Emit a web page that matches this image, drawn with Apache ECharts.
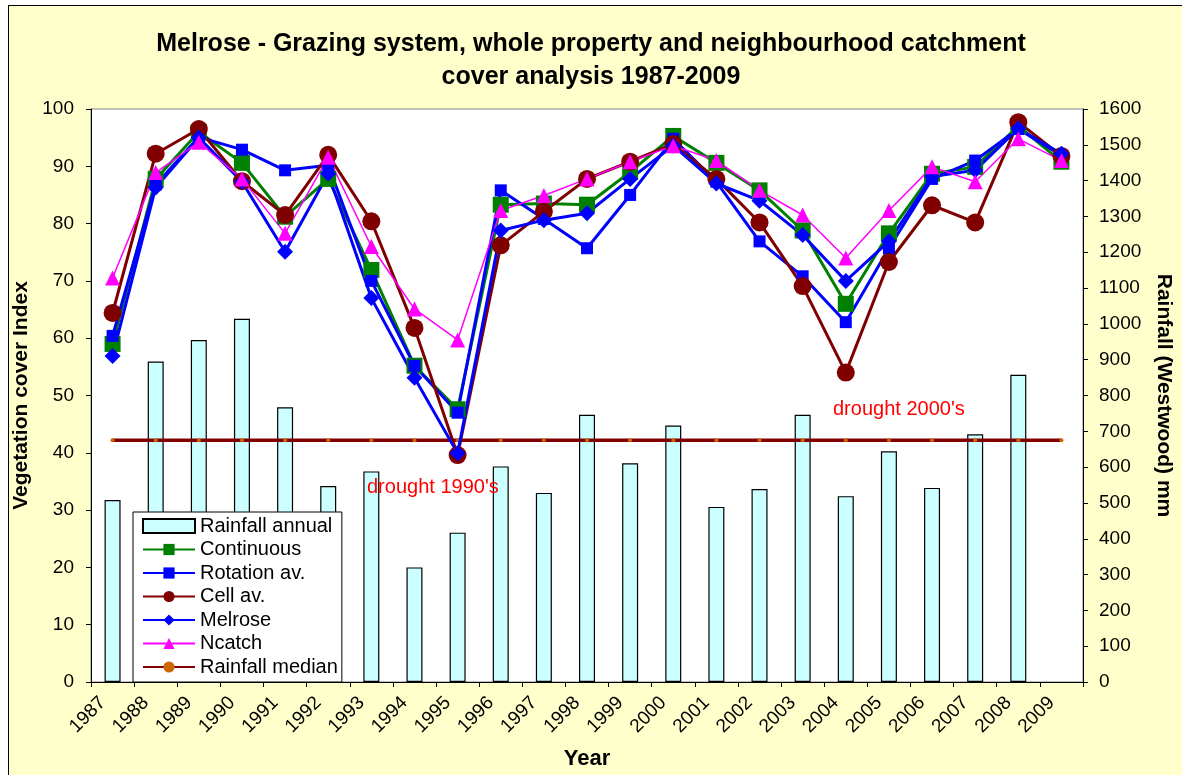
<!DOCTYPE html>
<html>
<head>
<meta charset="utf-8">
<script src="https://cdn.jsdelivr.net/npm/echarts@6/dist/echarts.min.js"></script>
<style>
  html, body { margin: 0; padding: 0; background: #ffffff; }
  #frame { position: absolute; left: 8px; top: 5px; width: 1180px; height: 775px;
           background: #FFFFCC; border: 1px solid #000000; }
  #chart { position: absolute; left: 0; top: 0; width: 1182px; height: 775px; }
</style>
</head>
<body>
<div id="frame"></div>
<div id="chart"></div>
<script>
// Years on the category axis
const years = ['1987','1988','1989','1990','1991','1992','1993','1994','1995','1996','1997','1998',
               '1999','2000','2001','2002','2003','2004','2005','2006','2007','2008','2009'];

// Annual rainfall at Westwood (mm); no figure for 2009
const rainfallAnnual = [508, 895, 955, 1014, 767, 547, 588, 320, 417, 602, 528, 746,
                        611, 716, 489, 539, 746, 519, 644, 542, 692, 858, null];

// Long-term rainfall median (mm)
const rainfallMedianValue = 675;

// Vegetation cover index by grazing system
const continuous = [59.0, 87.8, 96.0, 90.6, 81.2, 87.8, 71.9, 55.2, 47.6, 83.3, 83.5, 83.3,
                    89.0, 95.3, 90.6, 85.8, 78.8, 66.0, 78.3, 88.7, 89.9, 97.0, 90.8];
const rotation   = [60.4, 86.8, 95.1, 92.9, 89.3, 90.2, 70.0, 55.2, 47.0, 85.8, 80.8, 75.7,
                    85.0, 94.8, 87.3, 76.9, 70.8, 62.8, 75.7, 87.8, 91.0, 96.5, 91.9];
const cell       = [64.4, 92.2, 96.5, 87.4, 81.5, 92.0, 80.4, 61.8, 39.6, 76.2, 82.1, 87.8,
                    90.8, 93.9, 87.8, 80.2, 69.1, 54.0, 73.3, 83.2, 80.2, 97.7, 91.8];
const melrose    = [56.9, 86.3, 95.0, 87.3, 75.1, 88.7, 67.0, 53.1, 39.9, 78.8, 80.6, 81.8,
                    87.8, 93.6, 87.0, 84.0, 78.0, 70.0, 76.9, 88.2, 89.3, 96.6, 92.2];
const ncatch     = [70.5, 88.9, 94.2, 87.8, 78.3, 91.6, 76.0, 65.1, 59.7, 82.3, 84.9, 87.8,
                    90.8, 93.6, 91.0, 85.8, 81.5, 74.0, 82.3, 89.9, 87.3, 94.8, 91.0];

// Axis tick settings
const coverTicks = { min: 0, max: 100, interval: 10 };
const rainTicks  = { min: 0, max: 1600, interval: 100 };

const rainfallMedian = years.map(() => rainfallMedianValue);

const FONT = 'Arial, "Liberation Sans", sans-serif';

function lineSeries(name, data, color, width, symbol, size) {
  return {
    name: name, type: 'line', data: data, yAxisIndex: 0,
    symbol: symbol, symbolSize: size, showSymbol: true,
    lineStyle: { color: color, width: width },
    itemStyle: { color: color, borderWidth: 0 },
    emphasis: { disabled: true },
    animation: false
  };
}

const chart = echarts.init(document.getElementById('chart'), null, { renderer: 'canvas' });

chart.setOption({
  backgroundColor: 'transparent',
  animation: false,
  title: {
    text: 'Melrose - Grazing system, whole property and neighbourhood catchment\ncover analysis 1987-2009',
    left: 'center', top: 23,
    textStyle: { fontFamily: FONT, fontSize: 25, fontWeight: 'bold', color: '#000', lineHeight: 33 }
  },
  grid: {
    left: 91, right: 96, top: 109, bottom: 89,
    show: true, backgroundColor: '#ffffff', borderColor: '#808080', borderWidth: 1
  },
  legend: {
    orient: 'vertical', left: 133, top: 512,
    backgroundColor: '#ffffff', borderColor: '#000000', borderWidth: 1,
    padding: [4, 4, 5, 9],
    itemWidth: 52, itemHeight: 14, itemGap: 3.5,
    textStyle: { fontFamily: FONT, fontSize: 20, lineHeight: 20, color: '#000' },
    data: [
      { name: 'Rainfall annual', icon: 'rect' },
      'Continuous', 'Rotation av.', 'Cell av.', 'Melrose', 'Ncatch', 'Rainfall median'
    ]
  },
  xAxis: {
    type: 'category', data: years, boundaryGap: true,
    name: 'Year', nameLocation: 'middle', nameGap: 66,
    nameTextStyle: { fontFamily: FONT, fontSize: 22, fontWeight: 'bold', color: '#000' },
    axisLine: { lineStyle: { color: '#000', width: 1 } },
    axisTick: { show: true, alignWithLabel: false, length: 5, lineStyle: { color: '#000' } },
    axisLabel: { rotate: 45, interval: 0, margin: 8, padding: [0, 14, 0, 0],
                 fontFamily: FONT, fontSize: 19, color: '#000' },
    splitLine: { show: false }
  },
  yAxis: [
    {
      type: 'value', min: coverTicks.min, max: coverTicks.max, interval: coverTicks.interval,
      position: 'left',
      name: 'Vegetation cover Index', nameLocation: 'middle', nameGap: 52, nameRotate: 90,
      nameTextStyle: { fontFamily: FONT, fontSize: 21, fontWeight: 'bold', color: '#000' },
      axisLine: { show: true, lineStyle: { color: '#000', width: 1 } },
      axisTick: { show: true, inside: false, length: 5, lineStyle: { color: '#000' } },
      axisLabel: { fontFamily: FONT, fontSize: 19, color: '#000', margin: 17 },
      splitLine: { show: false }
    },
    {
      type: 'value', min: rainTicks.min, max: rainTicks.max, interval: rainTicks.interval,
      position: 'right',
      name: 'Rainfall (Westwood) mm', nameLocation: 'middle', nameGap: 70, nameRotate: -90,
      nameTextStyle: { fontFamily: FONT, fontSize: 21, fontWeight: 'bold', color: '#000' },
      axisLine: { show: true, lineStyle: { color: '#000', width: 1 } },
      axisTick: { show: true, inside: false, length: 5, lineStyle: { color: '#000' } },
      axisLabel: { fontFamily: FONT, fontSize: 19, color: '#000', margin: 16,
                   formatter: (v) => String(v) },
      splitLine: { show: false }
    }
  ],
  graphic: [
    { type: 'text', left: 367, top: 477, z: 100,
      style: { text: "drought 1990's", fill: '#FF0000', font: '20px ' + FONT } },
    { type: 'text', left: 833, top: 399, z: 100,
      style: { text: "drought 2000's", fill: '#FF0000', font: '20px ' + FONT } }
  ],
  series: [
    {
      name: 'Rainfall annual', type: 'bar', yAxisIndex: 1, data: rainfallAnnual,
      barWidth: 16,
      itemStyle: { color: '#CCFFFF', borderColor: '#000000', borderWidth: 1.2 },
      emphasis: { disabled: true }, z: 1
    },
    lineSeries('Continuous', continuous, '#008000', 3, 'rect', 16),
    lineSeries('Rotation av.', rotation, '#0000FF', 3, 'rect', 12),
    lineSeries('Cell av.', cell, '#800000', 3, 'circle', 18),
    lineSeries('Melrose', melrose, '#0000FF', 3, 'diamond', 16),
    lineSeries('Ncatch', ncatch, '#FF00FF', 1.5, 'triangle', 15),
    {
      name: 'Rainfall median', type: 'line', yAxisIndex: 1, data: rainfallMedian,
      symbol: 'circle', symbolSize: 4, showSymbol: true,
      lineStyle: { color: '#800000', width: 3.5 },
      itemStyle: { color: '#CC6600', borderWidth: 0 },
      emphasis: { disabled: true }, z: 1.5
    }
  ]
});
</script>
</body>
</html>
